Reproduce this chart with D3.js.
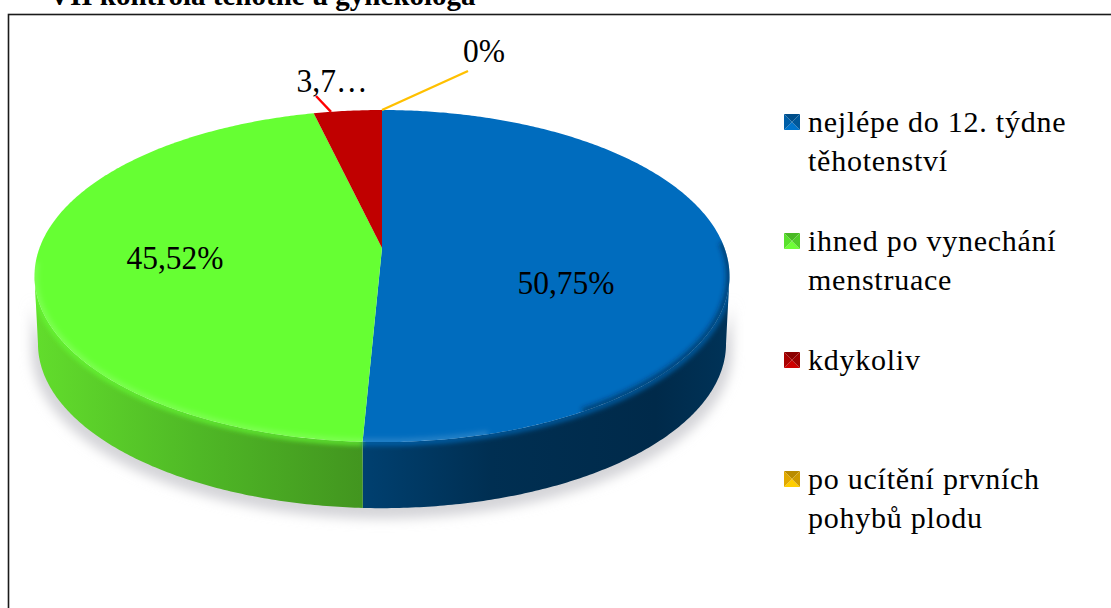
<!DOCTYPE html>
<html>
<head>
<meta charset="utf-8">
<script src="https://cdn.jsdelivr.net/npm/d3@7"></script>
<style>
  html, body { margin: 0; padding: 0; background: #fff; overflow: hidden; }
  text { font-family: "Liberation Serif", serif; fill: #000; }
</style>
</head>
<body>
<div id="chart"></div>
<script>
// Chart data
var categories = [
  "nejlépe do 12. týdne těhotenství",
  "ihned po vynechání menstruace",
  "kdykoliv",
  "po ucítění prvních pohybů plodu"
];
var values = [50.75, 45.52, 3.73, 0];
var valueLabels = ["50,75%", "45,52%", "3,7…", "0%"];
var legendLines = [
  ["nejlépe do 12. týdne", "těhotenství"],
  ["ihned po vynechání", "menstruace"],
  ["kdykoliv"],
  ["po ucítění prvních", "pohybů plodu"]
];
var colors = ["#006cbe", "#66ff33", "#c00000", "#ffc000"];
var chartTitle = "VII kontrola těhotné u gynekologa";

var svgWidth = 1111;
var svgHeight = 608;

// Pie plane with a bit of perspective, the hub sits above the middle of the ellipse
var hubX = 382, hubY = 248;
var radiusX = 342.5, radiusY = 161.3, persp = -0.169;
var wallDepth = 68;
var deg = Math.PI / 180;

function project(angle, drop, shrink) {
  var u = Math.sin(angle), v = -Math.cos(angle);
  var d = 1 + persp * v;
  return [hubX + shrink * radiusX * u / d, hubY + drop + shrink * radiusY * v / d];
}

// sample the rim between two angles
function rim(a0, a1, drop, shrink) {
  var n = Math.max(2, Math.ceil(Math.abs(a1 - a0) / 0.01));
  return d3.range(n + 1).map(function(i) {
    return project(a0 + (a1 - a0) * i / n, drop, shrink);
  });
}

var line = d3.line();

var svg = d3.select("#chart").append("svg")
  .attr("width", svgWidth)
  .attr("height", svgHeight)
  .style("display", "block");

var defs = svg.append("defs");

var blur = defs.append("filter").attr("id", "shadowBlur")
  .attr("x", "-10%").attr("y", "-10%").attr("width", "120%").attr("height", "120%");
blur.append("feGaussianBlur").attr("stdDeviation", 6);

var soft = defs.append("filter").attr("id", "softEdge")
  .attr("x", "-5%").attr("y", "-5%").attr("width", "110%").attr("height", "110%");
soft.append("feGaussianBlur").attr("stdDeviation", 2.5);

// wall gradients
function wallGradient(id, x1, x2, stops) {
  var g = defs.append("linearGradient").attr("id", id)
    .attr("gradientUnits", "userSpaceOnUse")
    .attr("x1", x1).attr("x2", x2).attr("y1", 0).attr("y2", 0);
  stops.forEach(function(s) {
    g.append("stop").attr("offset", s[0]).attr("stop-color", s[1]);
  });
}
wallGradient("wall0", 363, 729, [[0, "#004070"], [0.35, "#002f52"], [0.8, "#002a4a"], [1, "#003358"]]);
wallGradient("wall1", 34, 363, [[0, "#62dd2c"], [0.5, "#4fb826"], [1, "#42951f"]]);

// Frame around the chart, the title above it is cut by the page edge
svg.append("rect")
  .attr("x", 8.5).attr("y", 14.5)
  .attr("width", svgWidth + 20).attr("height", svgHeight + 20)
  .attr("fill", "#fff").attr("stroke", "#1a1a1a").attr("stroke-width", 1.6);

svg.append("text")
  .attr("x", 49).attr("y", 5)
  .attr("font-size", 29).attr("font-weight", "bold")
  .text(chartTitle);

// Slices
var pie = d3.pie().sort(null).value(function(d) { return d; });
var arcs = pie(values);

// the wall starts where the rim is at its widest
var tangent = Math.acos(persp);
var frontStart = tangent, frontEnd = 2 * Math.PI - tangent;

// soft grey shadow under the pie
var silhouette = rim(frontStart, frontEnd, wallDepth + 7, 1.008).concat(rim(frontEnd, frontStart, 20, 1.008));
svg.append("path")
  .attr("d", line(silhouette) + "Z")
  .attr("fill", "#d4d4d8")
  .attr("filter", "url(#shadowBlur)");

// wall, only the front part of the rim is seen
arcs.forEach(function(d, i) {
  var a0 = Math.max(d.startAngle, frontStart), a1 = Math.min(d.endAngle, frontEnd);
  if (a1 <= a0) return;
  var pts = rim(a0, a1, 0, 1).concat(rim(a1, a0, wallDepth, 0.99));
  svg.append("path")
    .attr("d", line(pts) + "Z")
    .attr("fill", "url(#wall" + i + ")");
});

// shoulder between wall and top face, blurred so the edge is not sharp
var wallClip = defs.append("clipPath").attr("id", "wallClip");
wallClip.append("path")
  .attr("d", line(rim(frontStart, frontEnd, 0, 1).concat(rim(frontEnd, frontStart, wallDepth, 0.99))) + "Z");
var shoulder = svg.append("g").attr("clip-path", "url(#wallClip)");
arcs.forEach(function(d, i) {
  var a0 = Math.max(d.startAngle, frontStart), a1 = Math.min(d.endAngle, frontEnd);
  if (a1 <= a0) return;
  shoulder.append("path")
    .attr("d", line(rim(a0, a1, 1, 1)))
    .attr("fill", "none").attr("stroke", colors[i]).attr("stroke-opacity", 0.8).attr("stroke-width", 5)
    .attr("filter", "url(#softEdge)");
});

// top face
arcs.forEach(function(d, i) {
  if (d.endAngle <= d.startAngle) return;
  var pts = [[hubX, hubY]].concat(rim(d.startAngle, d.endAngle, 0, 1));
  svg.append("path")
    .attr("d", line(pts) + "Z")
    .attr("fill", colors[i]);
});

// bevel along the edge of the top face: dark on the right, lighter along the front
var faceClip = defs.append("clipPath").attr("id", "faceClip");
faceClip.append("path").attr("d", line(rim(0, 2 * Math.PI, 0, 1)) + "Z");
var bevelGroup = svg.append("g").attr("clip-path", "url(#faceClip)");
bevelGroup.append("path")
  .attr("d", line(rim(88 * deg, 150 * deg, 0, 1)))
  .attr("fill", "none").attr("stroke", "#00223f").attr("stroke-opacity", 0.55).attr("stroke-width", 7)
  .attr("filter", "url(#softEdge)");
bevelGroup.append("path")
  .attr("d", line(rim(165 * deg, 265 * deg, 0, 1)))
  .attr("fill", "none").attr("stroke", "#fff").attr("stroke-opacity", 0.14).attr("stroke-width", 7)
  .attr("filter", "url(#softEdge)");

// Data labels
var labelSize = 33;
var labelPos = [[566, 294], [175, 269], [332, 92], [484, 62]];
svg.selectAll(".dataLabel")
  .data(valueLabels)
  .enter()
  .append("text")
  .attr("class", "dataLabel")
  .attr("x", function(d, i) { return labelPos[i][0]; })
  .attr("y", function(d, i) { return labelPos[i][1]; })
  .attr("text-anchor", "middle")
  .attr("font-size", labelSize)
  .attr("textLength", function(d, i) { return [97, 97, 71, 42][i]; })
  .attr("lengthAdjust", "spacingAndGlyphs")
  .text(function(d) { return d; });

// Leader lines
var leaders = [
  {slice: 2, from: 350 * deg, to: [316, 96]},
  {slice: 3, from: 0, to: [468, 71]}
];
leaders.forEach(function(l) {
  svg.append("path")
    .attr("d", line([project(l.from, 0, 1), l.to]))
    .attr("fill", "none")
    .attr("stroke", l.slice === 2 ? "#ff0000" : colors[l.slice])
    .attr("stroke-width", 2.4);
});

// Legend
var legendY = [122, 241, 360, 479];
var legendLineHeight = 39;
var legend = svg.selectAll(".legendItem")
  .data(categories)
  .enter()
  .append("g")
  .attr("class", "legendItem")
  .attr("transform", function(d, i) { return "translate(784," + legendY[i] + ")"; });

// little bevelled square, four triangles
legend.each(function(d, i) {
  var g = d3.select(this);
  var c = d3.color(colors[i]);
  var faces = [
    {pts: [[-8, -8], [8, -8], [0, 0]], k: c.darker(0.9)},
    {pts: [[-8, 8], [8, 8], [0, 0]], k: c.brighter(0.2)},
    {pts: [[-8, -8], [-8, 8], [0, 0]], k: c.darker(0.35)},
    {pts: [[8, -8], [8, 8], [0, 0]], k: c.darker(0.6)}
  ];
  faces.forEach(function(f) {
    g.append("path")
      .attr("transform", "translate(8,0)")
      .attr("d", line(f.pts) + "Z")
      .attr("fill", f.k.formatHex());
  });
  g.append("g").selectAll("text")
    .data(legendLines[i])
    .enter()
    .append("text")
    .attr("x", 24)
    .attr("y", function(t, j) { return 10 + j * legendLineHeight; })
    .attr("font-size", 30)
    .attr("letter-spacing", 0.75)
    .text(function(t) { return t; });
});
</script>
</body>
</html>
